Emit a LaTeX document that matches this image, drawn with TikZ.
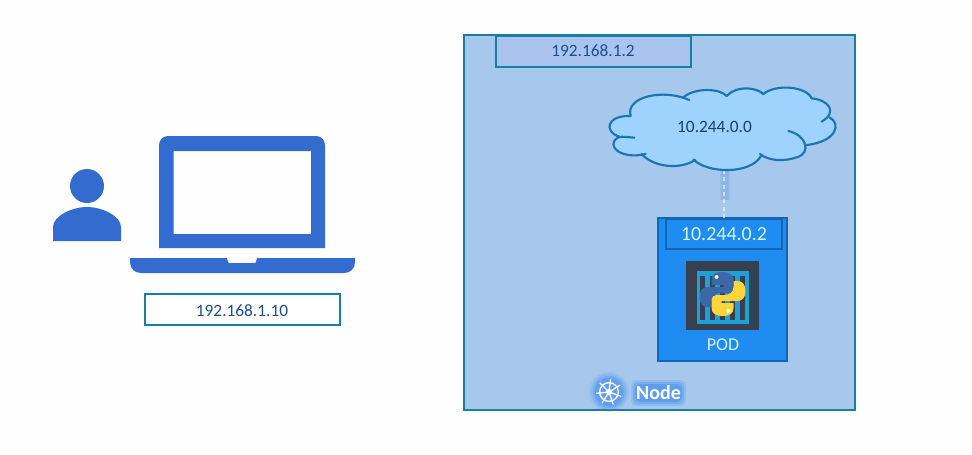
\documentclass[tikz,border=0pt]{standalone}
\usepackage{fontspec}
\setmainfont{Carlito}
\definecolor{nodefill}{HTML}{A6C8EC}
\definecolor{teal1}{HTML}{1A7F9E}
\definecolor{tagfill}{HTML}{A9C4EE}
\definecolor{podfill}{HTML}{1E8CF0}
\definecolor{podline}{HTML}{1565B5}
\definecolor{lap}{HTML}{336BCF}
\definecolor{cloudfill}{HTML}{9DD3FC}
\definecolor{cloudline}{HTML}{1B75B5}
\definecolor{iptext}{HTML}{1F4E8C}
\definecolor{darkicon}{HTML}{37404F}
\definecolor{cyanicon}{HTML}{1FA0D8}
\definecolor{pyblue}{HTML}{3A68A8}
\definecolor{pyyellow}{HTML}{FFD53E}
\definecolor{glow}{HTML}{3D8BF0}
\newcommand{\pythonhalf}[1]{%
    \fill[#1] (0,-22) .. controls (-8,-22) and (-11,-19) .. (-11,-14) -- (-11,-9) -- (1,-9) -- (1,-7) -- (-15,-7)
      .. controls (-20,-7) and (-23,-3) .. (-23,3) .. controls (-23,9) and (-20,13) .. (-15,13) -- (-11,13) -- (-11,7)
      .. controls (-11,2) and (-7,-1) .. (-2,-1) -- (6,-1) .. controls (9,-1) and (11,-3) .. (11,-6) -- (11,-14)
      .. controls (11,-19) and (7,-22) .. (0,-22) -- cycle;
    \fill[white] (-6,-17) circle (2);
}
\tikzset{
  iplabel/.style={font=\fontsize{13pt}{15pt}\selectfont,text=iptext,inner sep=0pt},
  box/.style={draw=teal1,line width=1.5pt,minimum height=0pt,inner sep=0pt},
  icon/.style={fill=lap,draw=none},
  cloudstroke/.style={draw=cloudline,line width=1.6pt,line cap=round},
  lighttext/.style={text=white,inner sep=0pt},
}
\begin{document}
\begin{tikzpicture}[x=0.75pt,y=-0.75pt]
\useasboundingbox (0,0) rectangle (972,454);
\fill[white!99.5!black] (0,0) rectangle (972,454);
% node frame
\node[box,fill=nodefill,minimum width=293.3pt,minimum height=281pt,anchor=north west] (frame) at (462.5,34) {};
\node[box,fill=tagfill,minimum width=146pt,minimum height=23pt,anchor=north west] (tag) at (495,35) {};
\node[iplabel] (tagtext) at (593,51) {192.168.1.2};
% person
\fill[icon] (87,186) circle (17);
\fill[icon] (53,241) -- (53,227) .. controls (53,216) and (72,207) .. (87,207) .. controls (102,207) and (121,216) .. (121,227) -- (121,241) -- cycle;
% laptop
\fill[icon,even odd rule] [rounded corners=9*0.75pt] (159,248) -- (159,136) -- (325,136) [sharp corners] -- (325,248) -- cycle
  (173.5,151) rectangle (311,234);
\fill[icon] (130,258) -- (227,258) -- (228,262) -- (229,263) -- (255,263) -- (256,262) -- (257,258) -- (355,258) -- (355,262) .. controls (355,269) and (350,273) .. (344,273) -- (141,273) .. controls (135,273) and (130,269) .. (130,262) -- cycle;
\node[box,fill=white,minimum width=146.5pt,minimum height=23.5pt,anchor=north west] (userip) at (143.8,293) {};
\node[iplabel] (useriptext) at (242,310.5) {192.168.1.10};
% connector
\coordinate (cloudbottom) at (724,170);
\node[draw=podline,line width=1.5pt,fill=podfill,minimum width=96.5pt,minimum height=107pt,anchor=north west,inner sep=0pt] (pod) at (657,217) {};
\node[draw=podline,line width=1.5pt,minimum width=87pt,minimum height=23pt,anchor=north west,inner sep=0pt] (podip) at (665,217.5) {};
\node[lighttext,font=\fontsize{15pt}{17pt}\selectfont,text=white!85!cyan] (podiptext) at (724,234.5) {10.244.0.2};
\foreach \w in {5,4,3}
  \fill[lap!35!nodefill,opacity=.25] (725-\w,170) rectangle (725+\w,200);
\draw[white!85!nodefill,opacity=.7,line width=0.8pt,dash pattern=on 3pt off 2.5pt] (cloudbottom) -- (podip.north);
% cloud
\begin{scope}[shift={(600,80)},x=0.25pt,y=-0.25pt]
\fill[cloudfill] (92,108) .. controls (75,50) and (190,25) .. (255,52)
 .. controls (285,22) and (360,25) .. (380,48)
 .. controls (410,15) and (470,22) .. (490,42)
 .. controls (530,10) and (620,20) .. (635,55)
 .. controls (680,60) and (715,85) .. (688,112)
 .. controls (725,130) and (710,185) .. (620,195)
 .. controls (620,235) and (530,255) .. (480,228)
 .. controls (450,285) and (320,280) .. (280,238)
 .. controls (240,270) and (150,262) .. (125,225)
 .. controls (60,240) and (15,195) .. (55,172)
 .. controls (10,155) and (20,105) .. (92,108) -- cycle;
\draw[cloudstroke] (92,108) .. controls (75,50) and (190,25) .. (268,60);
\draw[cloudstroke] (250,52) .. controls (285,22) and (360,25) .. (380,48);
\draw[cloudstroke] (380,48) .. controls (410,15) and (470,22) .. (490,42);
\draw[cloudstroke] (490,42) .. controls (530,10) and (620,20) .. (635,55);
\draw[cloudstroke] (635,55) .. controls (685,60) and (715,95) .. (665,125);
\draw[cloudstroke] (688,112) .. controls (725,130) and (710,185) .. (620,195);
\draw[cloudstroke] (565,153) .. controls (620,165) and (635,220) .. (590,232) .. controls (555,244) and (510,245) .. (480,222);
\draw[cloudstroke] (483,228) .. controls (450,285) and (320,280) .. (280,238);
\draw[cloudstroke] (285,240) .. controls (240,270) and (160,262) .. (125,222);
\draw[cloudstroke] (137,222) .. controls (60,240) and (15,195) .. (55,172) .. controls (65,168) and (85,172) .. (103,173);
\draw[cloudstroke] (58,170) .. controls (10,155) and (20,105) .. (92,108);
\end{scope}
\node[iplabel,text=iptext!80!black] (cloudtext) at (714.5,127) {10.244.0.0};
% container icon
\node[fill=darkicon,minimum width=54.75pt,minimum height=51.75pt,anchor=north west,inner sep=0pt] (icon) at (686,261) {};
\node[fill=cyanicon,minimum width=39pt,minimum height=39.75pt,anchor=north west,inner sep=0pt] (iconin) at (697,271) {};
\foreach \bx in {700,710,720,730,740}
  \fill[darkicon] (\bx,276) rectangle (\bx+5,320);
% python
\begin{scope}[shift={(722.5,294)}]
\pythonhalf{pyblue}
\end{scope}
\begin{scope}[shift={(722.5,294)},xscale=-1,yscale=-1]
\pythonhalf{pyyellow}
\end{scope}
\node[lighttext,font=\fontsize{13.5pt}{15pt}\selectfont,text=white!85!cyan] (podtext) at (723,345) {POD};
% kubernetes mark with glow
\foreach \r/\o in {20/.12,18/.18,16/.25,14/.35}
  \fill[glow,opacity=\o] (609,392) circle (\r);
\foreach \e/\o in {4/.2,2/.3,0/.4}
  \fill[glow,opacity=\o,rounded corners=4pt] (635-\e,384-\e) rectangle (682+\e,402+\e);
\node[circle,draw=white,line width=1pt,minimum size=14pt,inner sep=0pt] (wheel) at (609,392) {};
\foreach \a in {20,71,122,174,225,277,328}
  \draw[white,line width=1pt] (wheel.center) -- ++(\a:13);
\fill[white] (wheel.center) circle (3);
\node[lighttext,font=\bfseries\fontsize{15pt}{17pt}\selectfont] (nodetext) at (658.5,393) {Node};
\end{tikzpicture}
\end{document}
